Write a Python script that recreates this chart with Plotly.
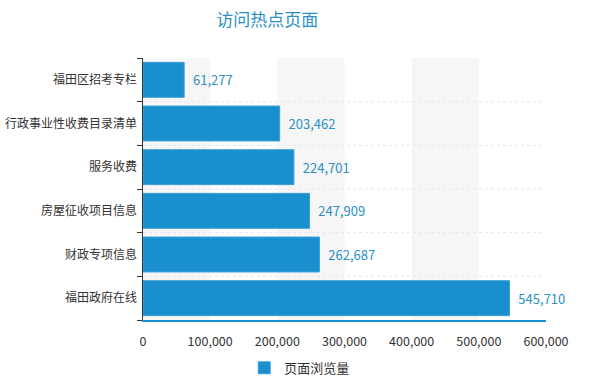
import plotly.graph_objects as go

categories = ["福田区招考专栏", "行政事业性收费目录清单", "服务收费", "房屋征收项目信息", "财政专项信息", "福田政府在线"]
values = [61277, 203462, 224701, 247909, 262687, 545710]
series_name = "页面浏览量"
x_ticks = [0, 100000, 200000, 300000, 400000, 500000, 600000]
x_tick_labels = ["0", "100,000", "200,000", "300,000", "400,000", "500,000", "600,000"]

FONT = "Noto Sans CJK SC"
BLUE = "#1a8fce"

fig = go.Figure()
fig.add_trace(go.Bar(
    y=categories, x=values, orientation="h", name=series_name,
    marker=dict(color=BLUE, line=dict(color="#3aa0d8", width=1)),
    text=["\u00a0\u00a0" + f"{v:,}" for v in values], textposition="outside",
    textfont=dict(color="#2d8fc4", size=13, family=FONT),
    cliponaxis=False, hoverinfo="skip",
))

shapes = []
for a, b in [(0, 100000), (200000, 300000), (400000, 500000)]:
    shapes.append(dict(type="rect", xref="x", yref="paper", x0=a, x1=b, y0=0, y1=1,
                       fillcolor="#f6f6f6", line=dict(width=0), layer="below"))
for i in range(1, len(categories)):
    shapes.append(dict(type="line", xref="paper", yref="y", x0=0, x1=1,
                       y0=i - 0.5, y1=i - 0.5, line=dict(color="#e6e6ee", width=1, dash="dot"),
                       layer="below"))
fig.update_layout(shapes=shapes)

fig.update_layout(
    width=590, height=386,
    margin=dict(l=143, r=44, t=58, b=66),
    paper_bgcolor="white", plot_bgcolor="white",
    bargap=0.2,
    title=dict(text="访问热点页面", x=0.453, xanchor="center", y=0.948, yanchor="middle",
               font=dict(family=FONT, size=17, color="#2b8fc6")),
    xaxis=dict(range=[0, 600000], tickvals=x_ticks, ticktext=x_tick_labels,
               showgrid=False, zeroline=False, showline=True, linecolor=BLUE, linewidth=2,
               ticks="outside", ticklen=9, tickcolor="rgba(0,0,0,0)", automargin=False,
               tickfont=dict(family=FONT, size=12.5, color="#333333")),
    yaxis=dict(categoryorder="array", categoryarray=categories[::-1], automargin=False,
               showgrid=False, showline=True, linecolor="#333333", linewidth=1,
               ticks="outside", tickson="boundaries", ticklen=5, tickcolor="#333333",
               tickfont=dict(family=FONT, size=12, color="#333333"), ticksuffix=" "),
    showlegend=True,
    legend=dict(orientation="h", xref="container", yref="container",
                x=0.508, xanchor="center", y=0.047, yanchor="middle",
                font=dict(family=FONT, size=13, color="#333333")),
)

fig.write_html("out.html", post_script="document.body.style.margin='0';",
               config={"displayModeBar": False})
